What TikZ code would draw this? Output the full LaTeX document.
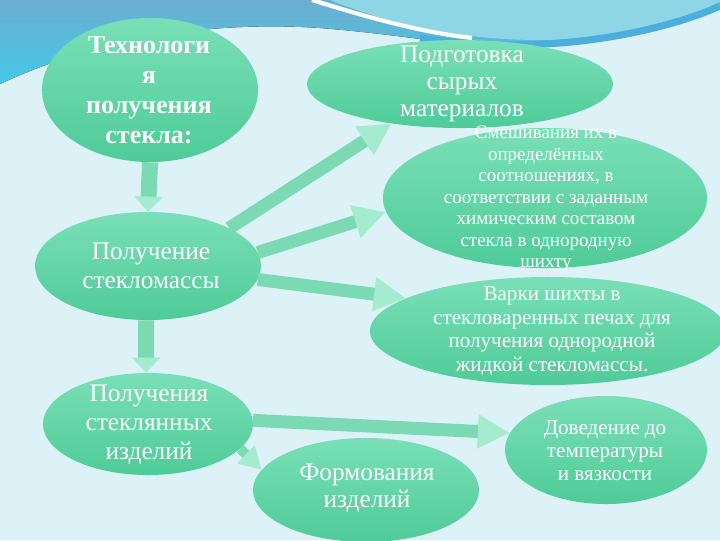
\documentclass[tikz,border=0pt]{standalone}
\usepackage{fontspec}
\setmainfont{Liberation Serif}
\usetikzlibrary{arrows.meta}
\usetikzlibrary{shapes.geometric}

\definecolor{bgcyan}{HTML}{DDF2F6}
\definecolor{bandtop}{HTML}{6CAED0}
\definecolor{bandlow}{HTML}{44C8E8}
\definecolor{arcblue}{HTML}{8ED5E6}
\definecolor{stripe}{HTML}{4CAEDC}
\definecolor{elltop}{HTML}{7ADFB8}
\definecolor{ellbot}{HTML}{4FCB98}
\definecolor{shaft}{HTML}{7BDAB4}
\definecolor{tipgreen}{HTML}{A4EBD0}

\begin{document}
\begin{tikzpicture}[x=0.025cm,y=-0.025cm,
        bubble/.style={ellipse,inner sep=0pt,top color=elltop,bottom color=ellbot},
        btext/.style={text=white,align=center,font=\fontsize{18}{20.6}\selectfont},
        flow/.style={shaft,line width=0.325cm,-{Triangle[length=0.8cm,width=0.8cm,color=tipgreen]}},
        drop/.style={shaft,line width=0.4cm,-{Triangle[length=0.38cm,width=0.7cm,color=tipgreen]}}]

    \useasboundingbox (0,0) rectangle (720,540);
    \fill[bgcyan] (0,0) rectangle (720,540);

    % top band
    \fill[top color=bandtop,bottom color=bandlow] (0,0) -- (0,84) .. controls (90,42) and (200,20) .. (320,28)
        .. controls (420,36) and (470,50) .. (540,47) .. controls (620,43) and (680,26) .. (720,8) -- (720,0) -- cycle;
    \fill[arcblue] (330,0) .. controls (400,28) and (470,40) .. (540,40) .. controls (620,40) and (690,18) .. (720,2) -- (720,0) -- cycle;
    \draw[stripe,line width=5pt] (420,38) .. controls (470,45) and (510,46) .. (545,44) .. controls (620,40) and (685,22) .. (720,6);
    \draw[white,line width=3pt] (312,0) .. controls (370,18) and (420,32) .. (472,38);

    % ellipses
    \node[bubble,minimum width=5.4cm,minimum height=3.6cm] (tech) at (150,90) {};
    \node[bubble,minimum width=7.65cm,minimum height=2.2cm] (prep) at (460,84) {};
    \node[bubble,minimum width=8.1cm,minimum height=3.5cm] (mix) at (545,198) {};
    \node[bubble,minimum width=8.9cm,minimum height=2.7cm] (melt) at (548,331) {};
    \node[bubble,minimum width=5.65cm,minimum height=2.7cm] (mass) at (148,266) {};
    \node[bubble,minimum width=5.25cm,minimum height=2.55cm] (items) at (148,424) {};
    \node[bubble,minimum width=5.65cm,minimum height=2.6cm] (form) at (366,490) {};
    \node[bubble,minimum width=5.05cm,minimum height=2.7cm] (temp) at (606,450) {};

    % texts
    \node[btext,font=\bfseries\fontsize{18.5}{21.3}\selectfont] (tech-t) at (149,90)
        {Технологи\\я\\получения\\стекла:};
    \node[btext,font=\fontsize{18}{19.2}\selectfont] (prep-t) at (462,84) {Подготовка\\сырых\\материалов};
    \node[btext,font=\fontsize{13.5}{15.3}\selectfont] (mix-t) at (546,199)
        {Смешивания их в\\определённых\\соотношениях, в\\соответствии с заданным\\химическим составом\\стекла в однородную\\шихту};
    \node[btext,font=\fontsize{15}{16.8}\selectfont] (melt-t) at (552,331)
        {Варки шихты в\\стекловаренных печах для\\получения однородной\\жидкой стекломассы.};
    \node[btext] (mass-t) at (151,266) {Получение\\стекломассы};
    \node[btext] (items-t) at (149,425) {Получения\\стеклянных\\изделий};
    \node[btext,font=\fontsize{18}{19.2}\selectfont] (form-t) at (367,488) {Формования\\изделий};
    \node[btext,font=\fontsize{15}{16.4}\selectfont] (temp-t) at (605,451) {Доведение до\\температуры\\и вязкости};

    % arrows
    \path[drop] (tech.south) edge (mass.north);
    \path[drop] (mass.-92) edge (items.92);
    \path[flow] (mass.25) edge (prep.210);
    \path[flow] (mass.7) edge (mix.185);
    \path[flow] (mass.-7) edge (melt.167);
    \path[flow] (items.2) edge (temp.170);
    \path[flow,line width=0.25cm,-{Triangle[length=0.55cm,width=0.6cm,color=tipgreen]}] (items.-15) edge (form.169);
\end{tikzpicture}
\end{document}
